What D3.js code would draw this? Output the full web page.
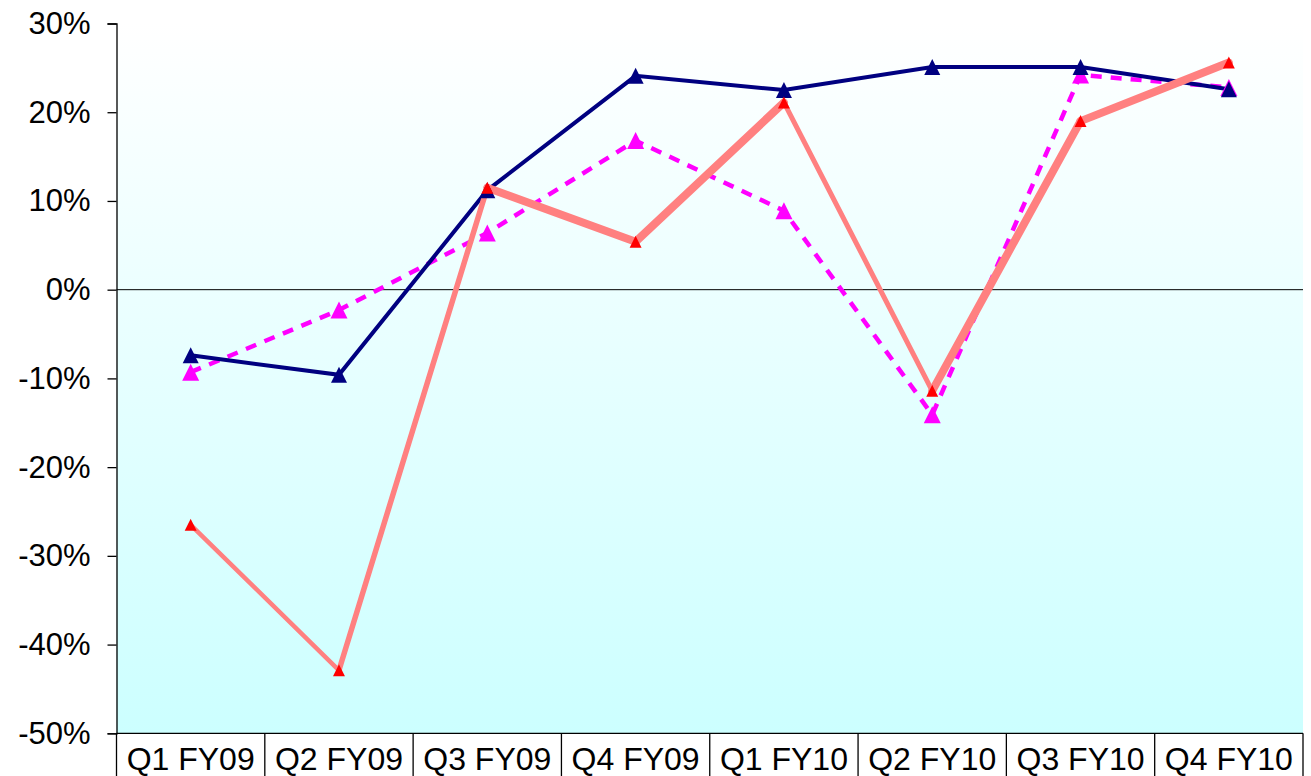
<!DOCTYPE html>
<html>
<head>
<meta charset="utf-8">
<script src="https://cdn.jsdelivr.net/npm/d3@7"></script>
<style>
  body { margin: 0; background: #ffffff; }
  svg text { font-family: "Liberation Sans", Arial, sans-serif; fill: #000; }
</style>
</head>
<body>
<div id="chart"></div>
<script>
// categories and tick labels
var quarters = ["Q1 FY09", "Q2 FY09", "Q3 FY09", "Q4 FY09", "Q1 FY10", "Q2 FY10", "Q3 FY10", "Q4 FY10"];
var yTicks = [-50, -40, -30, -20, -10, 0, 10, 20, 30];

// series values (percent)
var navyValues    = [-7.4, -9.6, 11.2, 24.1, 22.5, 25.1, 25.1, 22.6];
var magentaValues = [-9.3, -2.3, 6.4, 16.8, 8.9, -14.1, 24.2, 22.8];
var salmonValues  = [-26.5, -42.9, 11.5, 5.4, 21.1, -11.4, 19.0, 25.6];

// line weight of each salmon segment (thin / thick)
var salmonSegWidths = [4.5, 5.5, 8, 8, 5, 8, 8];

var width = 1311,
    height = 776,
    margin = {top: 23.5, right: 8, bottom: 42.7, left: 116.5};

var svg = d3.select("#chart").append("svg")
    .attr("width", width)
    .attr("height", height);

var x = d3.scaleBand()
    .domain(quarters)
    .range([margin.left, width - margin.right])
    .padding(0);

var y = d3.scaleLinear()
    .domain([-50, 30])
    .range([height - margin.bottom, margin.top]);

var cx = function(d, i) { return x(quarters[i]) + x.bandwidth() / 2; };

//background gradient, white at top to pale cyan at bottom
var grad = svg.append("defs").append("linearGradient")
    .attr("id", "bg")
    .attr("x1", 0).attr("y1", 0)
    .attr("x2", 0).attr("y2", 1);
grad.append("stop").attr("offset", "0%").attr("stop-color", "#ffffff");
grad.append("stop").attr("offset", "100%").attr("stop-color", "#ccffff");

svg.append("rect")
    .attr("x", margin.left)
    .attr("y", y(30))
    .attr("width", x.range()[1] - margin.left)
    .attr("height", y(-50) - y(30))
    .style("fill", "url(#bg)");

// y axis
var yAxis = svg.append("g")
    .attr("transform", "translate(" + margin.left + ",0)")
    .call(d3.axisLeft(y)
        .tickValues(yTicks)
        .tickSize(9)
        .tickPadding(17)
        .tickFormat(function(d) { return d + "%"; }));
yAxis.select(".domain").attr("stroke", "#000").attr("stroke-width", 1.3);
yAxis.selectAll(".tick line").attr("stroke", "#000").attr("stroke-width", 1.3);
yAxis.selectAll(".tick text").style("font-size", "31px");

// x axis: baseline plus category separators going down to the bottom edge
var base = y(-50);
svg.append("line")
    .attr("x1", margin.left).attr("x2", x.range()[1])
    .attr("y1", base).attr("y2", base)
    .style("stroke", "#000").style("stroke-width", 1.3);

var bounds = quarters.map(function(q) { return x(q); }).concat([x.range()[1]]);
svg.selectAll("line.sep").data(bounds)
  .enter().append("line")
    .attr("class", "sep")
    .attr("x1", function(d) { return d; })
    .attr("x2", function(d) { return d; })
    .attr("y1", base)
    .attr("y2", height)
    .style("stroke", "#000")
    .style("stroke-width", 1.3);

svg.selectAll("text.cat").data(quarters)
  .enter().append("text")
    .attr("class", "cat")
    .attr("x", function(d) { return x(d) + x.bandwidth() / 2; })
    .attr("y", 770)
    .attr("text-anchor", "middle")
    .style("font-size", "32px")
    .text(function(d) { return d; });

// zero line
svg.append("line")
    .attr("x1", margin.left).attr("x2", x.range()[1])
    .attr("y1", y(0)).attr("y2", y(0))
    .style("stroke", "#000").style("stroke-width", 1);

var line = d3.line()
    .x(cx)
    .y(function(d) { return y(d); });

function triangles(cls, values, size, color) {
  svg.selectAll("path." + cls).data(values)
    .enter().append("path")
      .attr("class", cls)
      .attr("transform", function(d, i) { return "translate(" + cx(d, i) + "," + y(d) + ")"; })
      .attr("d", "M0," + (-size / 2) + "L" + (size / 2) + "," + (size / 2) + "L" + (-size / 2) + "," + (size / 2) + "Z")
      .style("fill", color);
}

// magenta dashed series
svg.append("path")
    .datum(magentaValues)
    .attr("d", line)
    .style("fill", "none")
    .style("stroke", "#ff00ff")
    .style("stroke-width", 4.5)
    .style("stroke-dasharray", "11,9");

// navy series
svg.append("path")
    .datum(navyValues)
    .attr("d", line)
    .style("fill", "none")
    .style("stroke", "#000080")
    .style("stroke-width", 4);

triangles("mag", magentaValues, 17, "#ff00ff");

// salmon series, drawn segment by segment
var segs = d3.pairs(salmonValues.map(function(v, i) { return [cx(v, i), y(v)]; }));
svg.selectAll("line.salmon").data(segs)
  .enter().append("line")
    .attr("class", "salmon")
    .attr("x1", function(d) { return d[0][0]; })
    .attr("y1", function(d) { return d[0][1]; })
    .attr("x2", function(d) { return d[1][0]; })
    .attr("y2", function(d) { return d[1][1]; })
    .style("stroke", "#ff8080")
    .style("stroke-linecap", "round")
    .style("stroke-width", function(d, i) { return salmonSegWidths[i]; });

triangles("navy", navyValues, 16, "#000080");
triangles("red", salmonValues, 12, "#ff0000");
</script>
</body>
</html>
